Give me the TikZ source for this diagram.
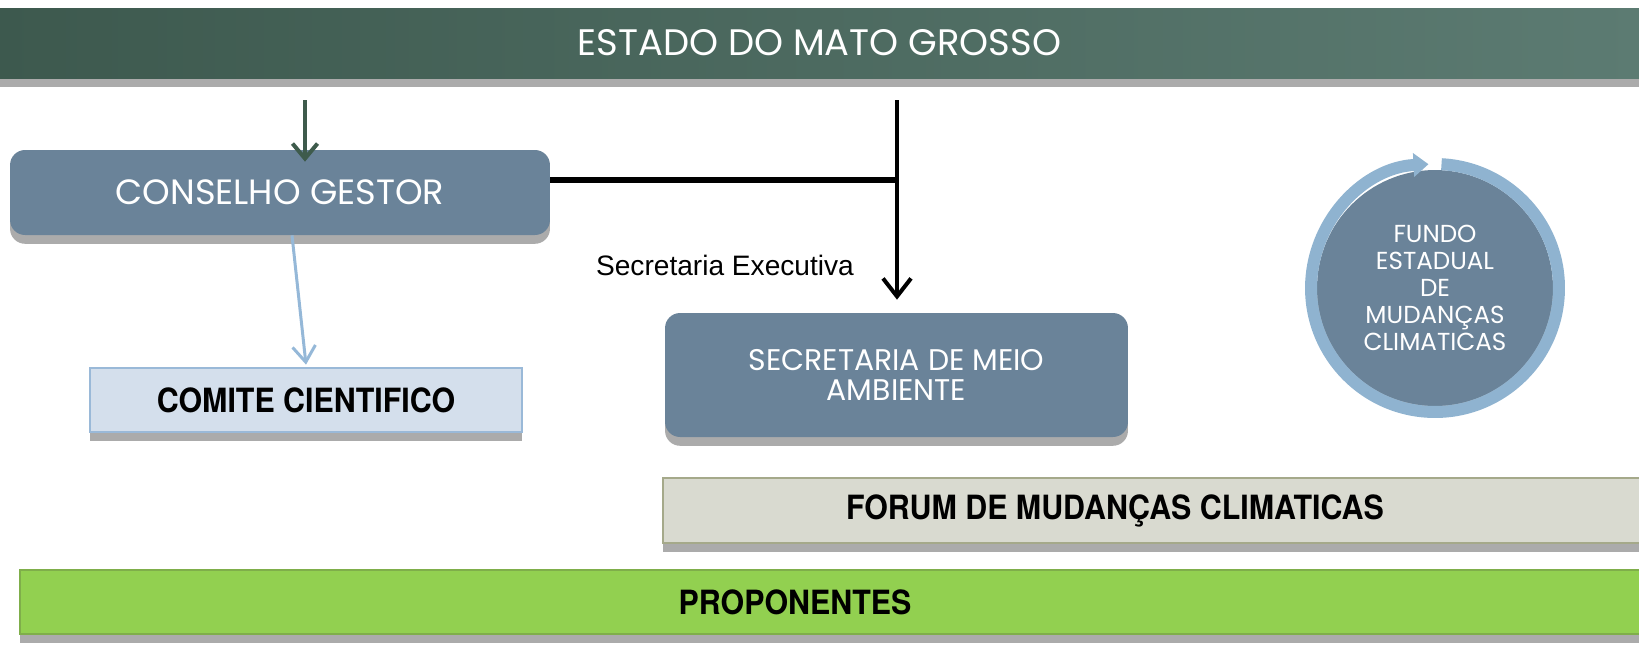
\documentclass[tikz,border=0pt]{standalone}
\usepackage{fontspec}
\usetikzlibrary{arrows.meta,shadows}
\newfontfamily\gothic{Poppins}
\newfontfamily\arialfont{Liberation Sans}
\newfontfamily\condbold[FakeStretch=0.91]{TeX Gyre Heros}
\definecolor{bannerleft}{HTML}{3D594E}
\definecolor{bannerright}{HTML}{5C7B72}
\definecolor{slate}{HTML}{6A8399}
\definecolor{ringblue}{HTML}{8FB3D0}
\definecolor{comitefill}{HTML}{D4DFEC}
\definecolor{comiteline}{HTML}{9AB9D8}
\definecolor{forumfill}{HTML}{D9DAD0}
\definecolor{forumline}{HTML}{A5A98A}
\definecolor{propfill}{HTML}{92D050}
\definecolor{propline}{HTML}{7FAE4A}
\definecolor{darkgreen}{HTML}{3E5B4C}
\definecolor{lightblue}{HTML}{95B8D8}

\begin{document}
\begin{tikzpicture}[x=0.02cm,y=-0.02cm,
    shade/.style={drop shadow={shadow xshift=0pt,shadow yshift=-5pt,fill=black!60,opacity=0.55}},
    banner/.style={left color=bannerleft,right color=bannerright,text=white,shade,
        font=\gothic\fontsize{21}{24}\selectfont},
    slatebox/.style={rounded corners=0.3cm,fill=slate,text=white,shade},
    flatbox/.style={draw,line width=1pt,shade},
    boldlabel/.style={font=\condbold\bfseries\fontsize{19}{22}\selectfont},
    greenarrow/.style={draw=darkgreen,line width=0.08cm,-{Straight Barb[length=0.3cm,width=0.5cm]}},
    blackarrow/.style={draw=black,line width=0.08cm,-{Straight Barb[length=0.36cm,width=0.56cm]}},
    bluearrow/.style={draw=lightblue,line width=0.06cm,-{Straight Barb[length=0.32cm,width=0.46cm]}}]
\useasboundingbox (0,0) rectangle (1639,664);

% header band
\node[banner,minimum width=32.9cm,minimum height=1.4cm] (estado) at (819.5,43) {ESTADO DO MATO GROSSO};

% boxes
\node[slatebox,minimum width=10.8cm,minimum height=1.7cm,
    font=\gothic\fontsize{20}{23}\selectfont] (gestor) at (280,192.5) {CONSELHO GESTOR};
\node[slatebox,minimum width=9.26cm,minimum height=2.48cm,align=center,
    font=\gothic\fontsize{17}{17}\selectfont] (sema) at (896.5,375) {SECRETARIA DE MEIO\\AMBIENTE};
\node[flatbox,boldlabel,fill=comitefill,draw=comiteline,minimum width=8.64cm,minimum height=1.28cm]
    (comite) at (306,400) {COMITE CIENTIFICO};
\node[circle,fill=slate,minimum size=4.72cm,align=center,text=white,shade,
    font=\gothic\fontsize{14}{15.4}\selectfont] (fundo) at (1435,288)
    {FUNDO\\ESTADUAL\\DE\\MUDANÇAS\\CLIMATICAS};
\node[flatbox,fill=forumfill,draw=forumline,minimum width=19.64cm,minimum height=1.3cm,
    label={[boldlabel,xshift=-0.78cm]center:FORUM DE MUDANÇAS CLIMATICAS}] (forum) at (1154,510.5) {};
\node[flatbox,fill=propfill,draw=propline,minimum width=32.5cm,minimum height=1.28cm,
    label={[boldlabel,xshift=-0.75cm]center:PROPONENTES}] (prop) at (832.5,602) {};

% ring round the fund
\draw[ringblue,line width=0.24cm,-{Triangle[length=0.3cm,width=0.46cm]}]
    (fundo.center) ++(87:2.48cm) arc[start angle=87,end angle=-267,radius=2.48cm];

% connectors
\coordinate (gtop) at (305,100);
\coordinate (stop) at (897,100);
\draw[greenarrow] (gtop) -- ([yshift=-0.24cm]gtop |- gestor.north);
\draw[black,line width=0.13cm] ([yshift=0.25cm]gestor.east) -- ([yshift=0.25cm]gestor.east -| stop);
\draw[blackarrow] (stop) -- ([yshift=0.26cm]stop |- sema.north);
\draw[bluearrow] ([xshift=0.24cm]gestor.south) -- ([yshift=0.05cm]comite.north);
\node[font=\arialfont\fontsize{16}{18}\selectfont] (secexec) at (725,265) {Secretaria Executiva};
\end{tikzpicture}
\end{document}
